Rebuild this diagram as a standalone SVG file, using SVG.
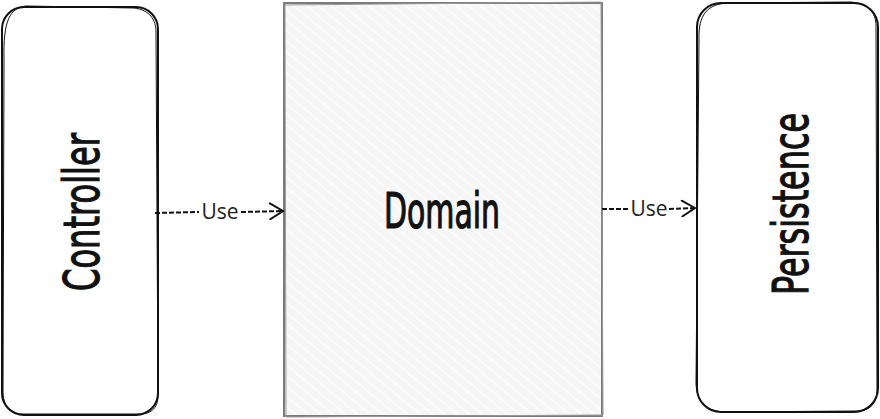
<svg xmlns="http://www.w3.org/2000/svg" width="880" height="419" viewBox="0 0 880 419">
<defs>
<pattern id="hatch" width="8" height="8" patternUnits="userSpaceOnUse" patternTransform="rotate(-50)">
<rect width="8" height="8" fill="#f6f6f6"/>
<line x1="0" y1="0" x2="0" y2="8" stroke="#ffffff" stroke-width="2"/>
</pattern>
<marker id="chev" markerWidth="18" markerHeight="18" refX="15" refY="9" orient="auto" markerUnits="userSpaceOnUse">
<path d="M2,1 L15,9 L2,17" fill="none" stroke="#111" stroke-width="2" stroke-linecap="round"/>
</marker>
</defs>
<style>
.box{fill:#ffffff;stroke:#111;stroke-width:2}
.box2{fill:none;stroke:#111;stroke-width:1}
.dom{fill:url(#hatch);stroke:#7a7a7a;stroke-width:2}
.dom2{fill:none;stroke:#9a9a9a;stroke-width:1}
.title{font-family:"DejaVu Sans",sans-serif;font-stretch:condensed;font-weight:normal;font-size:49px;fill:#111;stroke:#111;stroke-width:1.2}
.lbl{font-family:"Open Sans","Noto Sans",sans-serif;font-size:21px;fill:#222}
.conn{fill:none;stroke:#111;stroke-width:2;stroke-dasharray:5 2}
</style>
<rect width="880" height="419" fill="#ffffff"/>
<g id="controller">
<rect class="box" x="2" y="7" width="156" height="408" rx="22" ry="22"/>
<path class="box2" d="M4,60 C3,20 10,8 26,6 L134,8 C150,10 156,20 156,32 L158,395 C158,410 150,414 138,414 L22,414 C8,414 3,405 3,390 Z"/>
<text class="title" transform="translate(99,212) rotate(-90)" text-anchor="middle" textLength="158" lengthAdjust="spacingAndGlyphs">Controller</text>
</g>
<g id="domain">
<rect class="dom" x="284" y="3" width="318" height="413"/>
<path class="dom2" d="M285,5 L601,2 L603,415 L286,417 Z"/>
<text class="title" x="442" y="228" text-anchor="middle" textLength="116" lengthAdjust="spacingAndGlyphs">Domain</text>
</g>
<g id="persistence">
<rect class="box" x="697" y="3" width="181" height="409" rx="24" ry="24"/>
<path class="box2" d="M699,40 C698,14 708,4 728,3 L850,2 C868,3 876,12 876,26 L877,390 C877,404 870,411 856,411 L724,412 C706,411 697,402 696,384 Z"/>
<text class="title" transform="translate(808,204) rotate(-90)" text-anchor="middle" textLength="182" lengthAdjust="spacingAndGlyphs">Persistence</text>
</g>
<g id="connectors">
<path class="conn" d="M155,213 L199,212"/>
<path class="conn" d="M241,212 L283,211" marker-end="url(#chev)"/>
<text class="lbl" x="220" y="219" text-anchor="middle">Use</text>
<path class="conn" d="M602,209 L629,209"/>
<path class="conn" d="M669,209 L695,208" marker-end="url(#chev)"/>
<text class="lbl" x="649" y="216" text-anchor="middle">Use</text>
</g>
</svg>
